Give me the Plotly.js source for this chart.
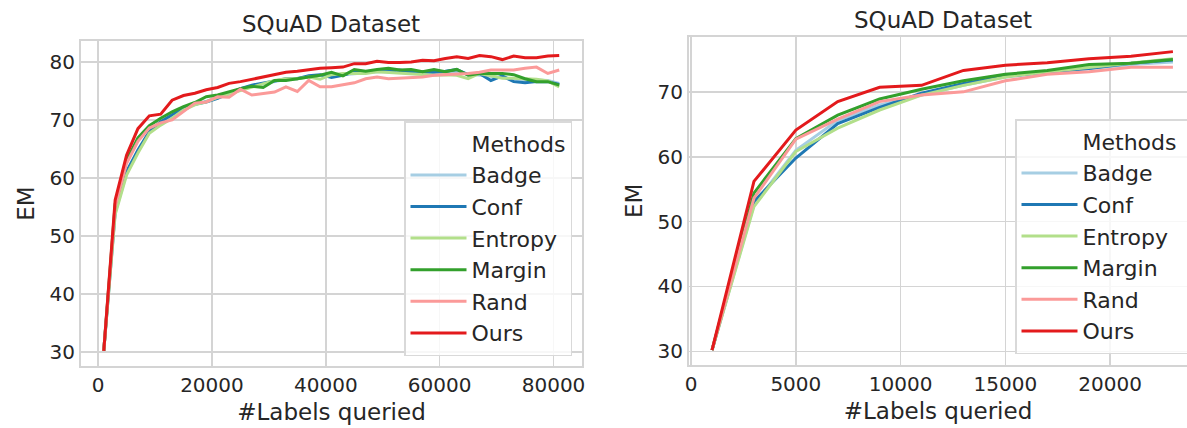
<!DOCTYPE html>
<html>
<head>
<meta charset="utf-8">
<script src="https://cdn.plot.ly/plotly-3.0.1.min.js"></script>
<style>html,body{margin:0;padding:0;background:#fff;}#chart{width:1187px;height:428px;}</style>
</head>
<body>
<div id="chart"></div>
<script>
// ---------- data ----------
const methods = ["Badge", "Conf", "Entropy", "Margin", "Rand", "Ours"];
const colors = ["#a6cee3", "#1f78b4", "#b2df8a", "#33a02c", "#fb9a99", "#e31a1c"];

// Left panel (full run)
const xLeft = [1000, 3000, 5000, 7000, 9000, 11000, 13000, 15000, 17000, 19000,
  21000, 23000, 25000, 27000, 29000, 31000, 33000, 35000, 37000, 39000,
  41000, 43000, 45000, 47000, 49000, 51000, 53000, 55000, 57000, 59000,
  61000, 63000, 65000, 67000, 69000, 71000, 73000, 75000, 77000, 79000, 81000];
const badgeLeft = [30.2, 54.0, 60.8, 64.6, 67.9, 69.5, 70.7, 71.9, 72.7, 73.2,
  73.9, 74.6, 75.2, 75.8, 76.2, 76.6, 77.0, 77.2, 77.5, 77.7,
  77.6, 77.8, 78.0, 78.2, 78.3, 78.3, 78.4, 78.0, 78.1, 77.9,
  78.0, 78.2, 77.9, 77.7, 77.5, 77.3, 76.9, 76.8, 76.9, 76.8, 76.3];
const confLeft = [30.2, 54.2, 61.1, 64.8, 68.0, 69.7, 70.9, 72.0, 72.7, 73.1,
  73.7, 74.6, 75.4, 76.0, 76.3, 76.7, 77.1, 77.1, 77.6, 77.8,
  77.3, 77.7, 78.3, 78.3, 78.4, 78.4, 78.6, 78.2, 78.3, 78.2,
  78.4, 78.7, 77.8, 78.0, 76.8, 77.6, 76.6, 76.4, 76.6, 76.6, 76.1];
const entropyLeft = [30.2, 53.7, 60.5, 64.3, 67.7, 69.1, 70.3, 71.7, 72.6, 73.1,
  73.9, 74.5, 75.1, 75.7, 76.3, 76.8, 77.1, 77.1, 77.4, 77.0,
  77.8, 78.0, 78.0, 78.0, 78.3, 78.2, 78.0, 77.9, 77.8, 77.7,
  77.8, 77.7, 77.1, 78.0, 77.6, 77.2, 77.2, 77.1, 77.0, 76.7, 75.7];
const marginLeft = [30.2, 55.5, 63.0, 66.9, 69.0, 70.3, 71.4, 72.3, 73.0, 74.0,
  74.3, 74.9, 75.4, 75.8, 75.6, 76.8, 76.8, 77.1, 77.4, 77.7,
  78.2, 77.6, 78.7, 78.4, 78.7, 78.9, 78.6, 78.7, 78.3, 78.7,
  78.3, 78.7, 77.7, 78.0, 78.0, 78.0, 77.8, 77.1, 76.6, 76.6, 76.0];
const randLeft = [30.2, 55.1, 62.5, 66.3, 68.6, 69.5, 70.0, 71.4, 72.9, 73.1,
  74.0, 73.9, 75.3, 74.3, 74.5, 74.8, 75.7, 74.9, 76.8, 75.7,
  75.7, 76.1, 76.4, 77.1, 77.4, 77.1, 77.2, 77.3, 77.4, 77.7,
  77.8, 77.8, 78.0, 78.2, 78.6, 78.6, 78.6, 78.9, 79.1, 78.0, 78.6];
const oursLeft = [30.2, 56.2, 63.9, 68.5, 70.7, 71.0, 73.4, 74.2, 74.6, 75.2,
  75.6, 76.3, 76.6, 77.0, 77.5, 77.9, 78.2, 78.4, 78.7, 78.9,
  79.0, 79.1, 79.7, 79.7, 80.1, 79.9, 79.9, 80.0, 80.3, 80.2,
  80.6, 80.9, 80.6, 81.1, 80.9, 80.4, 81.0, 80.7, 80.7, 81.0, 81.1];

// Right panel
const xRight = [1000, 3000, 5000, 7000, 9000, 11000, 13000, 15000, 17000, 19000, 21000, 23000];
const badgeRight = [30.2, 52.6, 61.0, 65.6, 68.0, 69.5, 71.0, 72.3, 72.9, 73.5, 74.2, 74.6];
const confRight = [30.2, 53.1, 59.8, 65.1, 67.6, 69.8, 71.3, 72.4, 73.1, 73.6, 74.4, 74.9];
const entropyRight = [30.2, 52.3, 60.8, 64.4, 67.2, 69.5, 71.0, 72.3, 73.1, 73.8, 74.4, 75.1];
const marginRight = [30.2, 54.4, 62.8, 66.4, 68.9, 70.4, 71.7, 72.7, 73.3, 74.2, 74.4, 75.0];
const randRight = [30.2, 53.6, 62.7, 65.8, 68.5, 69.5, 70.0, 71.7, 72.7, 73.1, 73.8, 73.8];
const oursRight = [30.2, 56.2, 64.1, 68.5, 70.7, 71.0, 73.3, 74.1, 74.5, 75.1, 75.5, 76.2];

const xTicksLeft = [0, 20000, 40000, 60000, 80000];
const xTicksRight = [0, 5000, 10000, 15000, 20000];
const yTicksLeft = [30, 40, 50, 60, 70, 80];
const yTicksRight = [30, 40, 50, 60, 70];
const titleText = "SQuAD Dataset";
const xTitle = "#Labels queried";
const yTitle = "EM";
const legendTitle = "Methods";

// ---------- build ----------
const leftSeries = [badgeLeft, confLeft, entropyLeft, marginLeft, randLeft, oursLeft];
const rightSeries = [badgeRight, confRight, entropyRight, marginRight, randRight, oursRight];
const W = 1187, H = 428;
const FONT = "DejaVu Sans, sans-serif";
const TXT = "#262626";
const GRID = "#d4d4d4";

const traces = [];
function addPanel(xs, series, xa, ya, legendId, headName) {
  traces.push({x: [null], y: [null], mode: "lines", name: headName,
    line: {color: "rgba(0,0,0,0)", width: 3}, xaxis: xa, yaxis: ya,
    legend: legendId, hoverinfo: "skip"});
  series.forEach((ys, i) => {
    traces.push({x: xs, y: ys, mode: "lines", name: methods[i],
      line: {color: colors[i], width: 3}, xaxis: xa, yaxis: ya, legend: legendId});
  });
}
addPanel(xLeft, leftSeries, "x", "y", "legend", legendTitle);
// right legend box runs past the figure edge in the original
addPanel(xRight, rightSeries, "x2", "y2", "legend2", legendTitle + "\u00a0\u00a0\u00a0");

function axis(extra) {
  return Object.assign({
    showgrid: true, gridcolor: GRID, gridwidth: 1.6,
    showline: true, linecolor: GRID, linewidth: 2, mirror: true,
    zeroline: false, ticks: "", tickfont: {family: FONT, size: 20, color: TXT},
    tickmode: "array", automargin: false
  }, extra);
}

const legendStyle = {
  font: {family: FONT, size: 22, color: TXT},
  bgcolor: "rgba(255,255,255,0.8)", bordercolor: "#d9d9d9", borderwidth: 1.5,
  itemwidth: 56, tracegroupgap: 0, yanchor: "bottom"
};

const layout = {
  width: W, height: H,
  margin: {l: 0, r: 0, t: 0, b: 0, autoexpand: false},
  paper_bgcolor: "#fff", plot_bgcolor: "#fff",
  font: {family: FONT, color: TXT},
  showlegend: true,
  xaxis: axis({domain: [81 / W, 582 / W], range: [-3000, 85000], tickvals: xTicksLeft,
    ticktext: xTicksLeft.map(String), anchor: "y",
    title: {text: xTitle, font: {family: FONT, size: 23, color: TXT}, standoff: 8}}),
  yaxis: axis({domain: [1 - 366 / H, 1 - 41 / H], range: [27.6, 83.6], tickvals: yTicksLeft,
    ticktext: yTicksLeft.map(String), anchor: "x",
    title: {text: yTitle, font: {family: FONT, size: 23, color: TXT}, standoff: 8}}),
  xaxis2: axis({domain: [689 / W, 1], range: [-100, 23672], tickvals: xTicksRight,
    ticktext: xTicksRight.map(String), anchor: "y2",
    title: {text: xTitle, font: {family: FONT, size: 23, color: TXT}, standoff: 8}}),
  yaxis2: axis({domain: [1 - 365 / H, 1 - 36.7 / H], range: [27.9, 78.5], tickvals: yTicksRight,
    ticktext: yTicksRight.map(String), anchor: "x2",
    title: {text: yTitle, font: {family: FONT, size: 23, color: TXT}, standoff: 8}}),
  legend: Object.assign({}, legendStyle, {x: 572 / W, xanchor: "right", y: 1 - 356 / H}),
  legend2: Object.assign({}, legendStyle, {x: 1015 / W, xanchor: "left", y: 1 - 354 / H}),
  annotations: [
    {text: titleText, xref: "paper", yref: "paper", x: 331 / W, y: 1 - 24 / H,
      xanchor: "center", yanchor: "middle", showarrow: false,
      font: {family: FONT, size: 23, color: TXT}},
    {text: titleText, xref: "paper", yref: "paper", x: 943 / W, y: 1 - 20 / H,
      xanchor: "center", yanchor: "middle", showarrow: false,
      font: {family: FONT, size: 23, color: TXT}}
  ]
};

Plotly.newPlot("chart", traces, layout, {displayModeBar: false, staticPlot: true});
</script>
</body>
</html>
